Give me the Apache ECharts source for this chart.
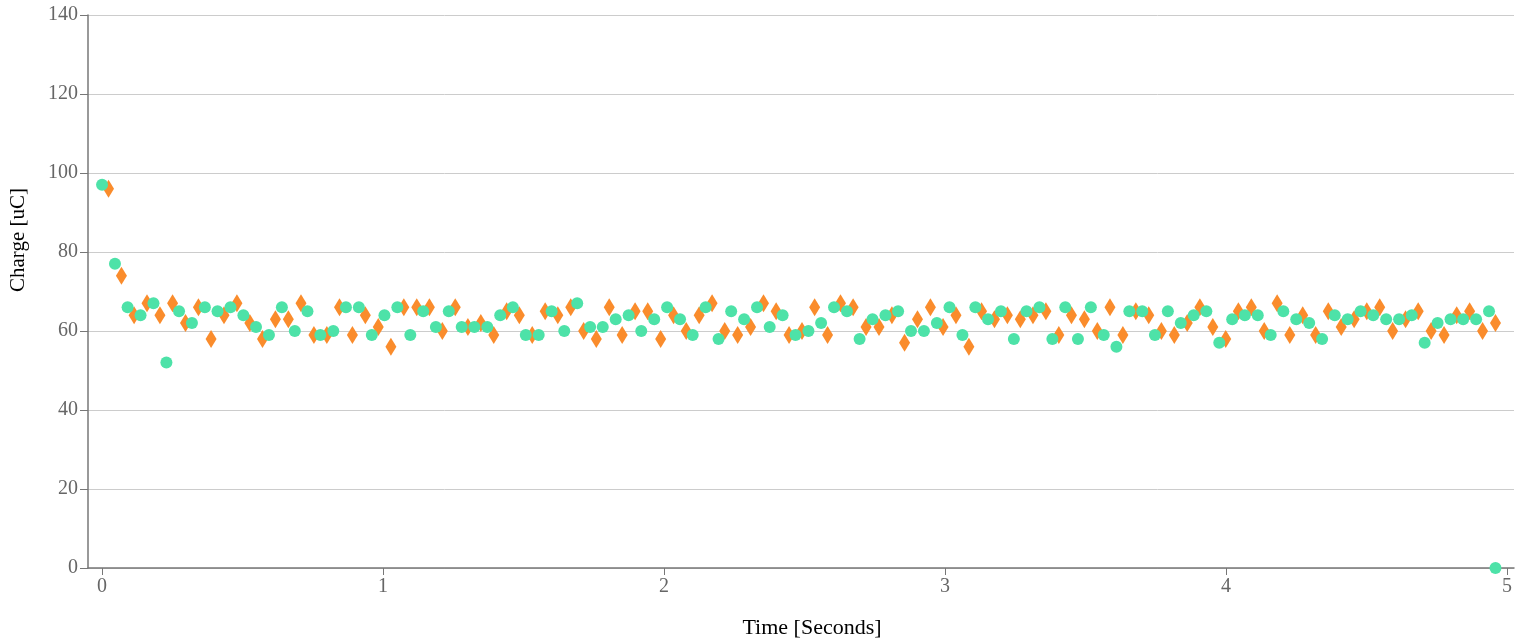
<!DOCTYPE html>
<html>
<head>
<meta charset="utf-8">
<script src="https://cdn.jsdelivr.net/npm/echarts@6/dist/echarts.min.js"></script>
<style>
html,body{margin:0;padding:0;background:#fff;}
#chart{width:1515px;height:641px;}
</style>
</head>
<body>
<div id="chart"></div>
<script>
// Green series (circles): time [s] and charge [uC]
const greenTime = [0,0.046,0.091,0.137,0.183,0.229,0.274,0.320,0.366,0.411,0.457,0.503,0.548,0.594,0.640,0.686,0.731,0.777,0.823,0.868,0.914,0.960,1.005,1.051,1.097,1.143,1.188,1.234,1.280,1.325,1.371,1.417,1.462,1.508,1.554,1.600,1.645,1.691,1.737,1.782,1.828,1.874,1.919,1.965,2.011,2.057,2.102,2.148,2.194,2.239,2.285,2.331,2.376,2.422,2.468,2.514,2.559,2.605,2.651,2.696,2.742,2.788,2.833,2.879,2.925,2.971,3.016,3.062,3.108,3.153,3.199,3.245,3.290,3.336,3.382,3.428,3.473,3.519,3.565,3.610,3.656,3.702,3.747,3.793,3.839,3.885,3.930,3.976,4.022,4.067,4.113,4.159,4.204,4.250,4.296,4.342,4.387,4.433,4.479,4.524,4.570,4.616,4.661,4.707,4.753,4.799,4.844,4.890,4.936,4.959];
const greenCharge = [97,77,66,64,67,52,65,62,66,65,66,64,61,59,66,60,65,59,
  60,66,66,59,64,66,59,65,61,65,61,61,61,64,66,59,59,65,
  60,67,61,61,63,64,60,63,66,63,59,66,58,65,63,66,61,64,
  59,60,62,66,65,58,63,64,65,60,60,62,66,59,66,63,65,58,
  65,66,58,66,58,66,59,56,65,65,59,65,62,64,65,57,63,64,
  64,59,65,63,62,58,64,63,65,64,63,63,64,57,62,63,63,63,65,
  0];

// Orange series (diamonds): time [s] and charge [uC]
const orangeTime = [0.023,0.069,0.114,0.160,0.206,0.251,0.297,0.343,0.388,0.434,0.480,0.526,0.571,0.617,0.663,0.708,0.754,0.800,0.845,0.891,0.937,0.983,1.028,1.074,1.120,1.165,1.211,1.257,1.302,1.348,1.394,1.440,1.485,1.531,1.577,1.622,1.668,1.714,1.759,1.805,1.851,1.897,1.942,1.988,2.034,2.079,2.125,2.171,2.216,2.262,2.308,2.354,2.399,2.445,2.491,2.536,2.582,2.628,2.673,2.719,2.765,2.811,2.856,2.902,2.948,2.993,3.039,3.085,3.130,3.176,3.222,3.268,3.313,3.359,3.405,3.450,3.496,3.542,3.587,3.633,3.679,3.725,3.770,3.816,3.862,3.907,3.953,3.999,4.044,4.090,4.136,4.182,4.227,4.273,4.319,4.364,4.410,4.456,4.501,4.547,4.593,4.639,4.684,4.730,4.776,4.821,4.867,4.913,4.959];
const orangeCharge = [96,74,64,67,64,67,62,66,58,64,67,62,58,63,63,67,59,59,
  66,59,64,61,56,66,66,66,60,66,61,62,59,65,64,59,65,
  64,66,60,58,66,59,65,65,58,64,60,64,67,60,59,61,67,65,59,
  60,66,59,67,66,61,61,64,57,63,66,61,64,56,65,63,64,
  63,64,65,59,64,63,60,66,59,65,64,60,59,62,66,61,58,65,
  66,60,67,59,64,59,65,61,63,65,66,60,63,65,60,59,64,65,60,62];

const xTicks = [0,1,2,3,4,5];
const xTitle = 'Time [Seconds]';
const yTitle = 'Charge [uC]';

function pairs(t, v){ return t.map((x,i)=>[x, v[i]]); }

const chart = echarts.init(document.getElementById('chart'), null, {renderer:'canvas'});
const font = '"Liberation Serif", "DejaVu Serif", serif';
chart.setOption({
  animation: false,
  backgroundColor: '#ffffff',
  textStyle: { fontFamily: font },
  grid: { left: 88, right: 0, top: 15, bottom: 73, containLabel: false },
  graphic: [
    { type: 'text', left: 'auto', x: 812, y: 628,
      style: { text: xTitle, fill: '#000', font: '22px ' + font, textAlign: 'center', textVerticalAlign: 'middle' } },
    { type: 'text', x: 18, y: 240, rotation: Math.PI / 2,
      style: { text: yTitle, fill: '#000', font: '21px ' + font, textAlign: 'center', textVerticalAlign: 'middle' } }
  ],
  xAxis: {
    type: 'value',
    min: -0.05, max: 5.025,
    axisLine: { show: true, onZero: false, lineStyle: { color: '#777', width: 1.5 } },
    axisTick: { show: true, customValues: xTicks, length: 7, lineStyle: { color: '#777' } },
    axisLabel: { customValues: xTicks, color: '#666', fontSize: 20, fontFamily: font, margin: 9 },
    splitLine: { show: false }
  },
  yAxis: {
    type: 'value',
    min: 0, max: 140, interval: 20,
    axisLine: { show: true, onZero: false, lineStyle: { color: '#777', width: 1.5 } },
    axisTick: { show: true, length: 8, lineStyle: { color: '#777' } },
    axisLabel: { color: '#666', fontSize: 20, fontFamily: font, margin: 10 },
    splitLine: { show: true, lineStyle: { color: '#cccccc', width: 1 } }
  },
  series: [
    {
      name: 'B', type: 'scatter',
      data: pairs(orangeTime, orangeCharge),
      symbol: 'diamond', symbolSize: [11, 18],
      itemStyle: { color: '#fa8c2c', opacity: 1 }
    },
    {
      name: 'A', type: 'scatter',
      data: pairs(greenTime, greenCharge),
      symbol: 'circle', symbolSize: 12,
      itemStyle: { color: '#4de2a8', opacity: 1 }
    }
  ]
});
</script>
</body>
</html>
